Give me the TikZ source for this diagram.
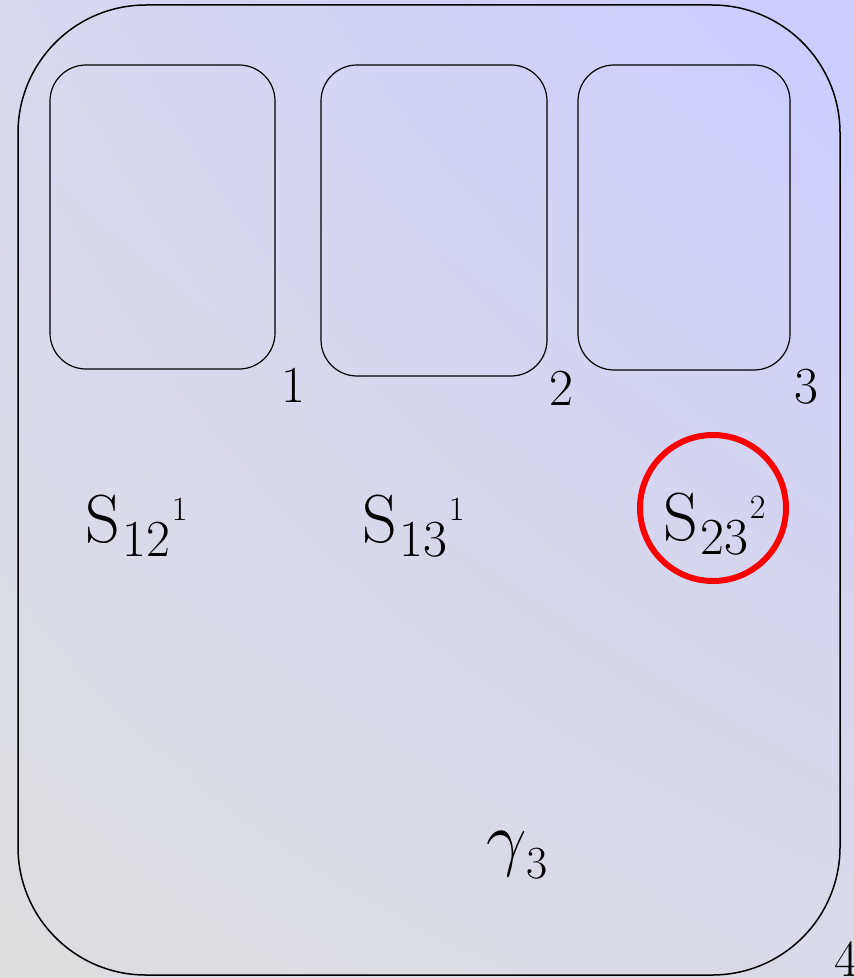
\RequirePackage{fix-cm}
\documentclass[tikz,border=0pt]{standalone}
\usetikzlibrary{shadings}
\definecolor{bgUL}{RGB}{216,216,240}
\definecolor{bgUR}{RGB}{204,204,255}
\definecolor{bgLL}{RGB}{222,222,222}
\definecolor{bgLR}{RGB}{218,218,232}
\newcommand{\slabel}[2]{{\fontsize{34}{34}\selectfont S}\kern1pt%
  \raisebox{-7pt}{\fontsize{26}{26}\selectfont #1}\kern1pt%
  \raisebox{11pt}{\fontsize{17}{17}\selectfont #2}}
\begin{document}
\begin{tikzpicture}[x=0.5pt, y=-0.5pt,
    outerbox/.style={draw=black, line width=0.75pt, rounded corners=64pt},
    cellbox/.style={draw=black, line width=0.6pt, rounded corners=18pt},
    num/.style={anchor=base west, inner sep=0pt, font=\fontsize{26}{26}\selectfont},
    lab/.style={anchor=base west, inner sep=0pt}]

  % Fond dégradé, qui fixe aussi les marges.
  \shade[upper left=bgUL, upper right=bgUR, lower left=bgLL, lower right=bgLR]
        (0,0) rectangle (854,978);
  \useasboundingbox (0,0) rectangle (854,978);

  % Le grand domaine et les trois cellules.
  \draw[outerbox] (18,5) rectangle (840,975);
  \draw[cellbox] (50,65) rectangle (275,369);
  \draw[cellbox] (321,65) rectangle (547,376);
  \draw[cellbox] (578,65) rectangle (790,370);

  % Numéros des régions.
  \node[num] (n1) at (281,402) {1};
  \node[num] (n2) at (549,405) {2};
  \node[num] (n3) at (794,403) {3};
  \node[num] (n4) at (834,976) {4};

  % Les trois surfaces S.
  \node[lab] (s12) at (85,542) {\slabel{12}{1}};
  \node[lab] (s13) at (362,542) {\slabel{13}{1}};
  \node[lab] (s23) at (663,540) {\slabel{23}{2}};

  % Celle qui nous intéresse.
  \draw[red, line width=3pt] (713,508) circle (36.5pt);

  % La courbe gamma.
  \node[lab] (g3) at (486,862)
       {\fontsize{36}{36}\selectfont $\gamma$\raisebox{-8pt}{\fontsize{23}{23}\selectfont 3}};

\end{tikzpicture}
\end{document}
